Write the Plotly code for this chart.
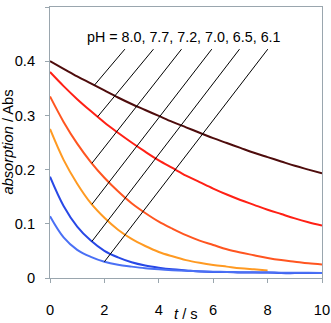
import numpy as np
import plotly.graph_objects as go

# time axis (s)
t = [0.0, 0.5, 1.0, 1.5, 2.0, 2.5, 3.0, 3.5, 4.0, 4.5, 5.0,
     5.5, 6.0, 6.5, 7.0, 7.5, 8.0, 8.5, 9.0, 9.5, 10.0]

# absorption values (Abs)
abs_ph80 = [0.400, 0.386, 0.372, 0.359, 0.346, 0.333, 0.321, 0.310, 0.299, 0.288, 0.278,
            0.268, 0.258, 0.249, 0.240, 0.231, 0.223, 0.215, 0.207, 0.200, 0.193]
abs_ph77 = [0.380, 0.354, 0.330, 0.308, 0.287, 0.268, 0.250, 0.233, 0.217, 0.203, 0.189,
            0.177, 0.165, 0.154, 0.144, 0.135, 0.126, 0.118, 0.110, 0.103, 0.097]
abs_ph72 = [0.335, 0.288, 0.248, 0.214, 0.185, 0.160, 0.138, 0.120, 0.104, 0.091, 0.079,
            0.069, 0.061, 0.053, 0.047, 0.042, 0.037, 0.033, 0.030, 0.027, 0.025]
abs_ph70 = [0.275, 0.218, 0.174, 0.138, 0.111, 0.089, 0.072, 0.059, 0.048, 0.040, 0.033,
            0.028, 0.024, 0.021, 0.018, 0.016, 0.014]
abs_ph65 = [0.187, 0.133, 0.095, 0.069, 0.050, 0.038, 0.029, 0.023, 0.019, 0.016, 0.014,
            0.012, 0.011, 0.011, 0.010, 0.010, 0.010, 0.009, 0.009, 0.009, 0.009]
abs_ph61 = [0.114, 0.075, 0.052, 0.039, 0.030, 0.0245, 0.021, 0.018, 0.016, 0.0145, 0.0133,
            0.0124, 0.0117, 0.0112, 0.0107, 0.0104, 0.0101, 0.0099, 0.0097, 0.0096, 0.0094]

series = [abs_ph80, abs_ph77, abs_ph72, abs_ph70, abs_ph65, abs_ph61]
ph_labels = ["8.0", "7.7", "7.2", "7.0", "6.5", "6.1"]
colors = ["#4e0c0c", "#ff2015", "#ff5520", "#ff9a22", "#2848e6", "#4a70f5"]
x_title = "<i>t</i> / s"
y_title = "<i>absorption</i> / Abs"

# leader lines: time where each line touches its curve, and x of the upper end
leader_tip_t = [1.63, 1.75, 1.54, 1.54, 1.54, 2.0]
leader_top_t = [2.80, 3.85, 4.88, 5.99, 7.01, 8.05]
leader_top_y = 0.425

fig = go.Figure()
for vals, col, ph in zip(series, colors, ph_labels):
    fig.add_trace(go.Scatter(
        x=t[:len(vals)], y=vals, mode="lines", name="pH " + ph,
        line=dict(color=col, width=2, shape="spline"),
        showlegend=False, hoverinfo="skip"))

font = dict(family="Liberation Sans, Arial", size=14.67, color="black")

annotations = []
for vals, tt, tx in zip(series, leader_tip_t, leader_top_t):
    yy = float(np.interp(tt, t[:len(vals)], vals))
    annotations.append(dict(
        x=tt, y=yy, xref="x", yref="y",
        ax=tx, ay=leader_top_y, axref="x", ayref="y",
        text="", showarrow=True, arrowhead=0, arrowwidth=1, arrowcolor="black",
        standoff=0, startstandoff=0))

annotations.append(dict(
    x=1.30, y=0.444, xref="x", yref="y", xanchor="left", yanchor="middle",
    text="pH = " + ", ".join(ph_labels), showarrow=False,
    font=dict(family="Liberation Sans, Arial", size=14.3, color="black")))

# axis titles
annotations.append(dict(x=0.5, y=-0.132, xref="paper", yref="paper",
                        xanchor="center", yanchor="middle", text=x_title,
                        showarrow=False, font=font))
annotations.append(dict(x=-0.158, y=0.5, xref="paper", yref="paper",
                        xanchor="center", yanchor="middle", text=y_title,
                        textangle=-90, showarrow=False, font=font))

axis_col = "#9aa6ae"
fig.update_layout(
    width=331, height=323,
    margin=dict(l=50, r=9, t=7, b=45),
    paper_bgcolor="white", plot_bgcolor="white",
    font=font,
    annotations=annotations,
    xaxis=dict(range=[0, 10], tickvals=[0, 2, 4, 6, 8, 10], showgrid=False, zeroline=False,
               showline=True, linecolor=axis_col, linewidth=1, mirror=True,
               ticks="outside", ticklen=4, tickcolor=axis_col,
               ticklabelstandoff=14, automargin=False),
    yaxis=dict(range=[0, 0.5], tickvals=[0, 0.1, 0.2, 0.3, 0.4, 0.5], showgrid=False, zeroline=False,
               showline=True, linecolor=axis_col, linewidth=1, mirror=True,
               ticks="outside", ticklen=4, tickcolor=axis_col,
               ticklabelstandoff=7, automargin=False),
)

fig.write_html("out.html",
               config={"displayModeBar": False, "staticPlot": True},
               post_script="document.body.style.margin='0';document.body.style.overflow='hidden';")
